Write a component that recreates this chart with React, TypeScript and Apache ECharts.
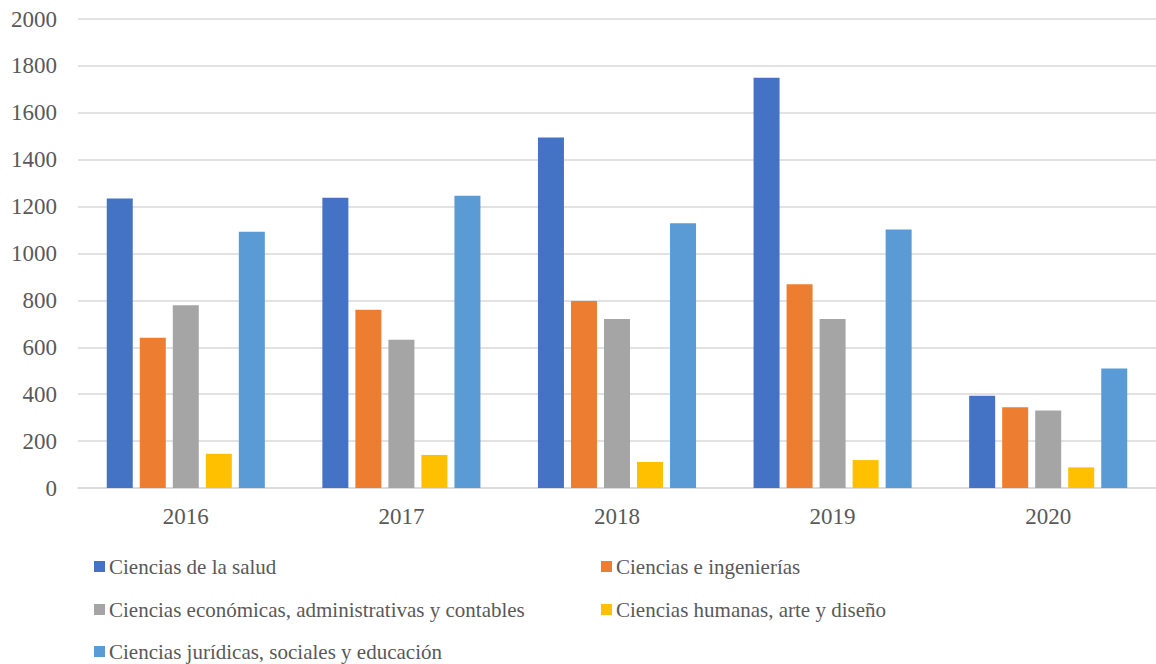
import React, { useEffect, useRef } from "react";
import * as echarts from "echarts";

const years = ["2016", "2017", "2018", "2019", "2020"];
const seriesNames = [
  "Ciencias de la salud",
  "Ciencias e ingenierías",
  "Ciencias económicas, administrativas y contables",
  "Ciencias humanas, arte y diseño",
  "Ciencias jurídicas, sociales y educación",
];
const salud = [1235, 1238, 1495, 1750, 393];
const ingenierias = [641, 760, 797, 869, 344];
const economicas = [779, 632, 721, 721, 331];
const humanas = [146, 141, 111, 119, 88];
const juridicas = [1093, 1246, 1129, 1102, 510];
const colors = ["#4472C4", "#ED7D31", "#A5A5A5", "#FFC000", "#5B9BD5"];
const yTicks = { min: 0, max: 2000, interval: 200 };

const FONT = "Liberation Serif";
const TEXT = "#595959";

export default function App() {
  const ref = useRef<HTMLDivElement>(null);
  useEffect(() => {
    if (!ref.current) return;
    const chart = echarts.init(ref.current, null, { renderer: "svg" });
    const values = [salud, ingenierias, economicas, humanas, juridicas];
    const legendPos = [
      { left: 94, top: 556 },
      { left: 601, top: 556 },
      { left: 94, top: 599 },
      { left: 601, top: 599 },
      { left: 94, top: 641 },
    ];
    chart.setOption({
      animation: false,
      color: colors,
      textStyle: { fontFamily: FONT },
      grid: { left: 78, top: 19, width: 1087, height: 469, containLabel: false },
      legend: seriesNames.map((n, i) => ({
        data: [n],
        left: legendPos[i].left,
        top: legendPos[i].top,
        icon: "rect",
        itemWidth: 11,
        itemHeight: 11,
        padding: 0,
        textStyle: { fontFamily: FONT, fontSize: 21, color: TEXT, padding: [0, 0, 0, -1] },
        selectedMode: false,
      })),
      xAxis: {
        type: "category",
        data: years,
        axisLine: { lineStyle: { color: "#D9D9D9", width: 1.5 } },
        axisTick: { show: false },
        axisLabel: { fontFamily: FONT, fontSize: 23, color: TEXT, margin: 17 },
      },
      yAxis: {
        type: "value",
        min: yTicks.min,
        max: yTicks.max,
        interval: yTicks.interval,
        axisLine: { show: false },
        axisTick: { show: false },
        splitLine: { lineStyle: { color: "#D9D9D9", width: 1.5 } },
        axisLabel: {
          fontFamily: FONT,
          fontSize: 23,
          color: TEXT,
          margin: 21,
          formatter: (v: number) => String(v),
        },
      },
      series: seriesNames.map((n, i) => ({
        name: n,
        type: "bar",
        data: values[i],
        barWidth: 26,
        barGap: "27%",
        itemStyle: { color: colors[i] },
      })),
    });
    return () => chart.dispose();
  }, []);
  return (
    <div
      ref={ref}
      style={{ position: "fixed", left: 0, top: 0, width: 1156, height: 664, background: "#fff" }}
    />
  );
}
